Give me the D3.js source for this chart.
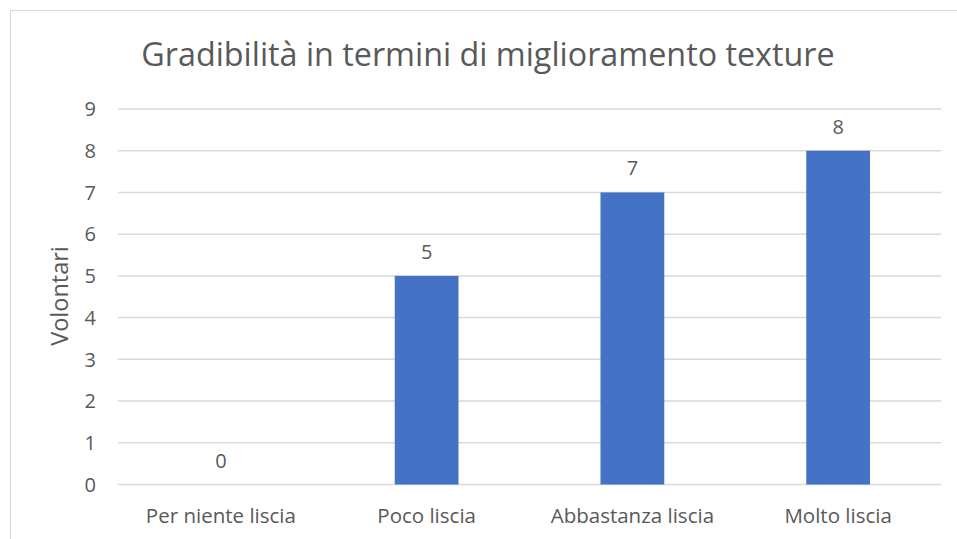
<!DOCTYPE html>
<html>
<head>
<meta charset="utf-8">
<script src="https://cdn.jsdelivr.net/npm/d3@7"></script>
<style>
  body { margin: 0; background: #fff; }
  text { font-family: "Open Sans", sans-serif; fill: #595959; }
</style>
</head>
<body>
<div id="chart"></div>
<script>
const chartTitle = "Gradibilità in termini di miglioramento texture";
const yTitle = "Volontari";
const categories = ["Per niente liscia", "Poco liscia", "Abbastanza liscia", "Molto liscia"];
const volontari = [0, 5, 7, 8];
const yTicks = [0, 1, 2, 3, 4, 5, 6, 7, 8, 9];

const width = 957, height = 539;
const margin = {top: 109, right: 16, bottom: 55, left: 118};

const svg = d3.select("#chart").append("svg")
  .attr("width", width)
  .attr("height", height);

// chart frame (runs off right and bottom edges)
svg.append("rect")
  .attr("x", 10.5).attr("y", 10.5)
  .attr("width", 980).attr("height", 560)
  .style("fill", "none")
  .style("stroke", "#d9d9d9")
  .style("stroke-width", 1);

const x = d3.scaleBand()
  .domain(categories)
  .range([margin.left, width - margin.right])
  .paddingInner(0.69)
  .paddingOuter(0.345);

const y = d3.scaleLinear()
  .domain([0, 9])
  .range([height - margin.bottom + 0.5, margin.top]);

// gridlines
svg.append("g")
  .selectAll("line")
  .data(yTicks)
  .join("line")
  .attr("x1", margin.left)
  .attr("x2", width - margin.right)
  .attr("y1", d => y(d))
  .attr("y2", d => y(d))
  .style("stroke", "#d9d9d9")
  .style("stroke-width", 1.5);

// y tick labels
svg.append("g")
  .selectAll("text")
  .data(yTicks)
  .join("text")
  .attr("x", 96)
  .attr("y", d => y(d))
  .attr("dy", "0.36em")
  .attr("text-anchor", "end")
  .style("font-size", "20px")
  .text(d => d);

// bars
svg.append("g")
  .selectAll("rect")
  .data(volontari)
  .join("rect")
  .attr("x", (d, i) => x(categories[i]))
  .attr("width", x.bandwidth())
  .attr("y", d => y(d))
  .attr("height", d => y(0) - y(d))
  .style("fill", "#4472c4");

// value labels
svg.append("g")
  .selectAll("text")
  .data(volontari)
  .join("text")
  .attr("x", (d, i) => x(categories[i]) + x.bandwidth() / 2)
  .attr("y", d => y(d) - 17)
  .attr("text-anchor", "middle")
  .style("font-size", "20px")
  .text(d => d);

// category labels
svg.append("g")
  .selectAll("text")
  .data(categories)
  .join("text")
  .attr("x", d => x(d) + x.bandwidth() / 2)
  .attr("y", 523)
  .attr("text-anchor", "middle")
  .style("font-size", "20.5px")
  .text(d => d);

// axis title
svg.append("text")
  .attr("transform", "translate(68,296) rotate(-90)")
  .attr("text-anchor", "middle")
  .style("font-size", "23.5px")
  .text(yTitle);

// chart title
svg.append("text")
  .attr("x", 488)
  .attr("y", 66)
  .attr("text-anchor", "middle")
  .style("font-size", "32.3px")
  .text(chartTitle);
</script>
</body>
</html>
